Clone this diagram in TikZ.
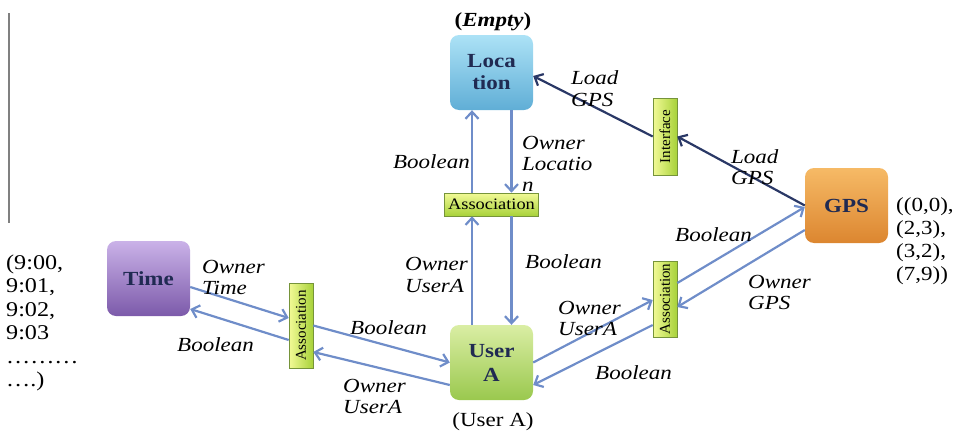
\documentclass[tikz,border=0pt]{standalone}
\usepackage{fontspec}
\setmainfont{Liberation Serif}[FakeStretch=1.15]
\newfontfamily\vertfont{Liberation Serif}
\usetikzlibrary{arrows.meta}

\definecolor{linkblue}{RGB}{111,141,201}
\definecolor{navyline}{RGB}{42,56,102}
\definecolor{navytext}{RGB}{32,42,82}
\definecolor{loctop}{RGB}{172,226,246}
\definecolor{locbot}{RGB}{96,174,214}
\definecolor{timetop}{RGB}{202,178,232}
\definecolor{timebot}{RGB}{124,90,170}
\definecolor{gpstop}{RGB}{246,186,102}
\definecolor{gpsbot}{RGB}{220,134,48}
\definecolor{usertop}{RGB}{218,238,164}
\definecolor{userbot}{RGB}{154,200,78}
\definecolor{assoclight}{RGB}{242,250,150}
\definecolor{assocdark}{RGB}{168,210,58}
\definecolor{assocedge}{RGB}{118,148,58}

\tikzset{
  box/.style={rounded corners=9pt, minimum width=83pt, minimum height=75pt,
    inner sep=0pt, text=navytext, align=center,
    font=\fontsize{20}{22}\selectfont\bfseries},
  hassoc/.style={draw=assocedge, line width=0.6pt, top color=assoclight,
    bottom color=assocdark, inner sep=0pt, font=\fontsize{16}{16}\selectfont},
  vassoc/.style={draw=assocedge, line width=0.6pt, left color=assoclight,
    right color=assocdark, inner sep=0pt, minimum width=24pt,
    font=\vertfont\fontsize{15}{15}\selectfont},
  link/.style={draw=linkblue, line width=2.2pt,
    -{Straight Barb[length=7pt,width=13pt]}},
  loadlink/.style={link, draw=navyline},
  lbl/.style={font=\fontsize{20}{21.5}\selectfont\itshape, align=left,
    anchor=west, inner sep=0pt},
  datatext/.style={align=left, anchor=west, inner sep=0pt},
}

\begin{document}
\begin{tikzpicture}[x=1pt, y=-1pt]
    \useasboundingbox (0,0) rectangle (956,431);

    % Margin mark
    \draw[gray, line width=2pt] (8.5,13) -- (8.5,223);

    % Boxes
    \node[box, top color=loctop, bottom color=locbot] (loc) at (491.5,72.5) {Loca\\tion};
    \node[box, top color=timetop, bottom color=timebot] (time) at (148.5,278.5) {Time};
    \node[box, top color=gpstop, bottom color=gpsbot] (gps) at (846.5,205.5) {GPS};
    \node[box, top color=usertop, bottom color=userbot] (user) at (491.5,362.5) {User\\[2pt]A};

    % Association and interface bars
    \node[hassoc, minimum width=94pt, minimum height=23pt] (assocm) at (491.5,204.5) {Association};
    \node[vassoc, minimum height=85pt] (asl) at (301,325.5) {\rotatebox{90}{Association}};
    \node[vassoc, minimum height=76pt] (asr) at (665,299) {\rotatebox{90}{Association}};
    \node[vassoc, minimum height=77pt] (intf) at (665,136.5) {\rotatebox{90}{Interface}};

    % Values
    \node[font=\fontsize{20}{22}\selectfont\bfseries] (empty) at (493,22) {(\textit{Empty})};
    \node[font=\fontsize{20}{22}\selectfont] (usera) at (493,422) {(User A)};
    \node[datatext, font=\fontsize{20}{23}\selectfont] (gpsdata) at (896,241)
      {((0,0),\\(2,3),\\(3,2),\\(7,9))};
    \node[datatext, font=\fontsize{21}{23.5}\selectfont] (timedata) at (6,323)
      {(9:00,\\9:01,\\9:02,\\9:03\\………\\….)};

    % Load GPS through the interface
    \draw[loadlink] (intf.west) -- ([yshift=-3.5pt]loc.east);
    \draw[loadlink] (gps.west) -- (intf.east);
    \node[lbl] (loadA) at (571,88.5) {Load\\GPS};
    \node[lbl] (loadB) at (731,167) {Load\\GPS};

    % Location <-> User A
    \draw[link] ([xshift=-19.5pt]assocm.north) -- ([xshift=-19.5pt]loc.south);
    \draw[link] ([xshift=20pt]loc.south) -- ([xshift=20pt]assocm.north);
    \draw[link] ([xshift=-19.5pt]user.north) -- ([xshift=-19.5pt]assocm.south);
    \draw[link] ([xshift=20pt]assocm.south) -- ([xshift=20pt]user.north);
    \node[lbl, anchor=east] (boolLoc) at (470,162) {Boolean};
    \node[lbl, font=\fontsize{20}{21}\selectfont\itshape] (ownLoc) at (522,163.5) {Owner\\Locatio\\n};
    \node[lbl] (ownUA1) at (405,275) {Owner\\UserA};
    \node[lbl] (boolM) at (525,262) {Boolean};

    % Time <-> User A
    \draw[link] ([yshift=-8.5pt]time.east) -- ([yshift=7.5pt]asl.west);
    \draw[link] ([yshift=-14.5pt]asl.west) -- ([yshift=-30.5pt]time.east);
    \draw[link] (asl.east) -- (user.west);
    \draw[link] ([yshift=-22.5pt]user.west) -- ([yshift=-26.5pt]asl.east);
    \node[lbl] (ownTime) at (202,277.5) {Owner\\Time};
    \node[lbl] (boolL) at (177,345) {Boolean};
    \node[lbl] (boolML) at (350,328) {Boolean};
    \node[lbl] (ownUA2) at (343,396.5) {Owner\\UserA};

    % GPS <-> User A
    \draw[link] (user.east) -- ([yshift=-1pt]asr.west);
    \draw[link] ([yshift=-26pt]asr.west) -- ([yshift=-22.5pt]user.east);
    \draw[link] ([yshift=16pt]asr.east) -- ([yshift=-1.5pt]gps.west);
    \draw[link] ([yshift=-24.5pt]gps.west) -- ([yshift=-8pt]asr.east);
    \node[lbl] (ownUA3) at (558,318.5) {Owner\\UserA};
    \node[lbl] (boolR) at (595,373) {Boolean};
    \node[lbl] (boolG) at (675,235) {Boolean};
    \node[lbl] (ownGPS) at (748,292.5) {Owner\\GPS};
\end{tikzpicture}
\end{document}
